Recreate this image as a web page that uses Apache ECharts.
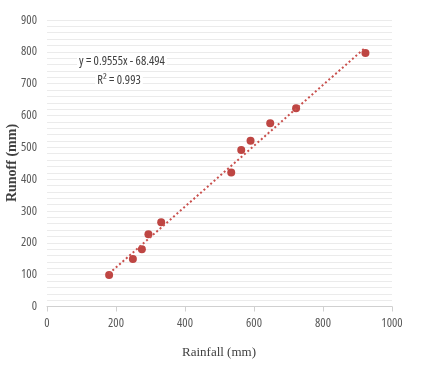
<!DOCTYPE html>
<html><head><meta charset="utf-8">
<script src="https://cdn.jsdelivr.net/npm/echarts@6/dist/echarts.min.js"></script>
<style>html,body{margin:0;padding:0;background:#fff}#c{width:423px;height:377px}</style>
</head><body><div id="c"></div>
<script>
const rainfall = [180, 249, 275, 294, 331, 534, 563, 590, 647, 722, 923];
const runoff   = [99, 149, 180, 227, 265, 421, 492, 521, 576, 623, 796];
const trendX = [180, 923];
const trendY = [103.5, 813.4];
const xTicks = [0, 200, 400, 600, 800, 1000];
const yTicks = [0, 100, 200, 300, 400, 500, 600, 700, 800, 900];
const equationText = 'y = 0.9555x - 68.494';
const r2Text = 'R² = 0.993';
const xTitle = 'Rainfall (mm)';
const yTitle = 'Runoff (mm)';

const chart = echarts.init(document.getElementById('c'), null, {renderer: 'canvas'});
const tickFamily = '"Open Sans", sans-serif';
const labelStyle = {color: '#595959', fontFamily: tickFamily, fontStyle: 'condensed', fontSize: 12.5};
chart.setOption({
  animation: false,
  grid: {left: 47, right: 31, top: 20, bottom: 70.5, containLabel: false, outerBoundsMode: 'none'},
  xAxis: {
    type: 'value', min: xTicks[0], max: xTicks[xTicks.length - 1], interval: 200,
    axisLine: {show: true, lineStyle: {color: '#d0d0d0', width: 1}},
    axisTick: {show: true, length: 5, lineStyle: {color: '#d0d0d0'}},
    axisLabel: Object.assign({margin: 10, formatter: v => String(v)}, labelStyle),
    splitLine: {show: false}
  },
  yAxis: {
    type: 'value', min: yTicks[0], max: yTicks[yTicks.length - 1], interval: 100,
    axisLine: {show: false},
    axisTick: {show: false},
    axisLabel: Object.assign({margin: 10, formatter: v => String(v)}, labelStyle),
    splitLine: {show: true, lineStyle: {color: '#ebebeb', width: 1}},
    minorTick: {show: false, splitNumber: 5},
    minorSplitLine: {show: true, lineStyle: {color: '#ebebeb', width: 1}}
  },
  series: [
    {
      type: 'line', data: trendX.map((x, i) => [x, trendY[i]]),
      symbol: 'none', silent: true,
      lineStyle: {color: '#c9504d', width: 2, type: [2, 2.5]}
    },
    {
      type: 'scatter', data: rainfall.map((x, i) => [x, runoff[i]]),
      symbol: 'circle', symbolSize: 8,
      itemStyle: {color: '#be4643', opacity: 1}
    }
  ],
  graphic: [
    {type: 'text', x: 122, y: 61, z: 100, style: {text: equationText, fill: '#404040',
      font: 'condensed 12.5px "Open Sans", sans-serif',
      align: 'center', verticalAlign: 'middle', backgroundColor: '#fff', padding: [1, 2]}},
    {type: 'text', x: 119, y: 80, z: 100, style: {text: r2Text, fill: '#404040',
      font: 'condensed 12.5px "Open Sans", sans-serif',
      align: 'center', verticalAlign: 'middle', backgroundColor: '#fff', padding: [1, 2]}},
    {type: 'text', x: 12, y: 163, rotation: Math.PI / 2, z: 100, style: {text: yTitle, fill: '#404040',
      font: 'bold 14px "Liberation Serif", serif', align: 'center', verticalAlign: 'middle'}},
    {type: 'text', x: 219, y: 353, z: 100, style: {text: xTitle, fill: '#404040',
      font: '13px "Liberation Serif", serif', align: 'center', verticalAlign: 'middle'}}
  ]
});
</script></body></html>
